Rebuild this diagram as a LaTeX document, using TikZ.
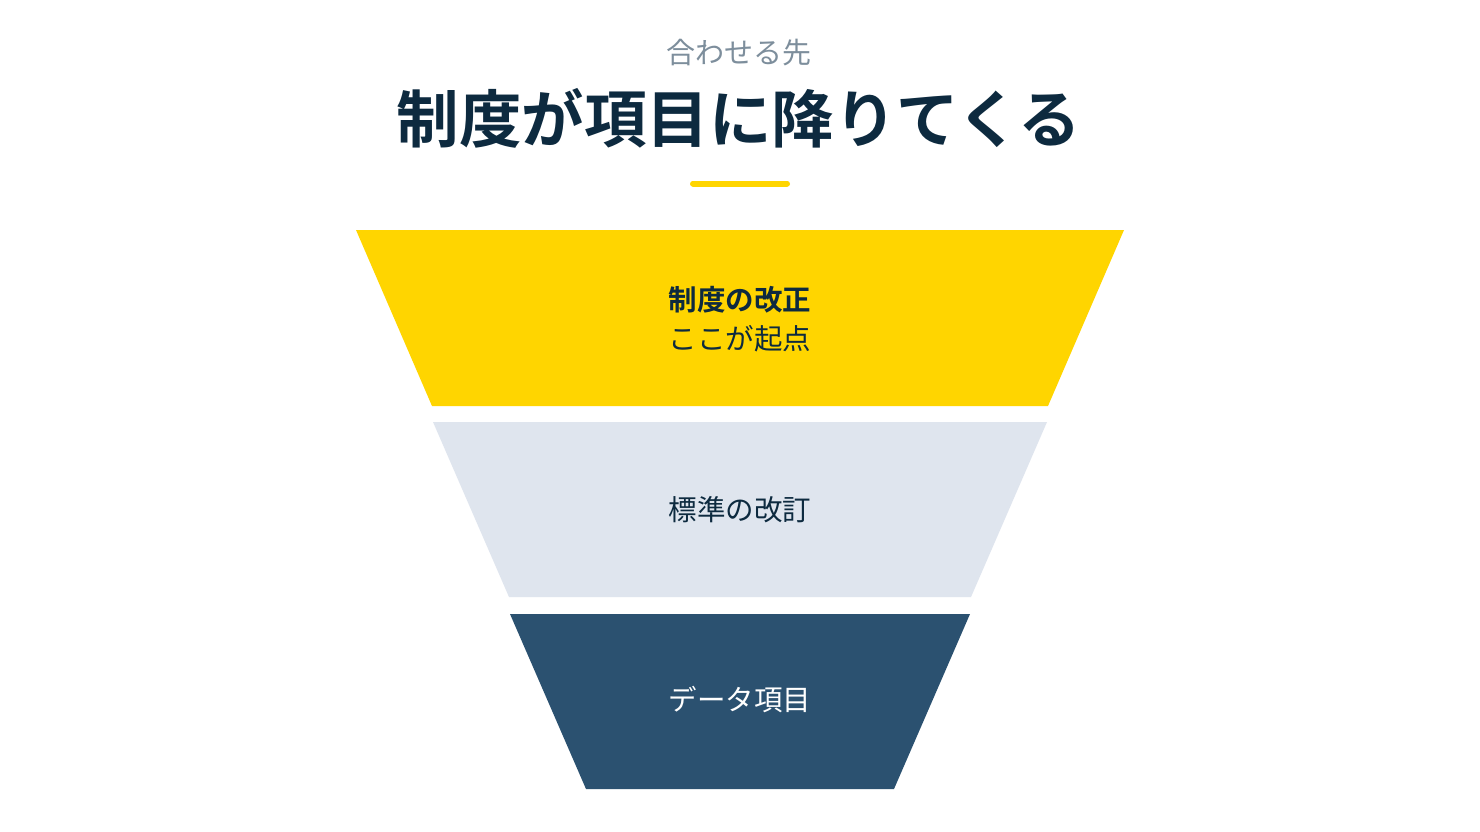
\documentclass[tikz,border=0pt]{standalone}
\usepackage{fontspec}
\newfontfamily\jp{Noto Sans CJK JP}
\newfontfamily\jpb{Noto Sans CJK JP Bold}
\definecolor{ylw}{HTML}{FFD500}
\definecolor{lgray}{HTML}{DFE5EE}
\definecolor{dblue}{HTML}{2B5170}
\definecolor{navy}{HTML}{0D2A3F}
\definecolor{sub}{HTML}{7D8E9C}
\tikzset{
  lbl/.style={font=\jp\fontsize{28.5}{32}\selectfont, inner sep=0pt, anchor=center},
}
\begin{document}
\begin{tikzpicture}[x=1pt,y=-1pt]
\useasboundingbox[fill=white] (0,0) rectangle (1480,832);
\node[inner sep=0pt, text=sub, font=\jp\fontsize{29}{32}\selectfont] (subt) at (739,53) {合わせる先};
\node[inner sep=0pt, text=navy, font=\jpb\fontsize{62.5}{70}\selectfont] (title) at (739,118) {制度が項目に降りてくる};
\draw[ylw, line width=6pt, line cap=round] (693,183.5) -- (787,183.5);
\fill[ylw] (356,230) -- (1124,230) -- (1048,406) -- (432,406) -- cycle;
\fill[lgray] (433,422) -- (1047,422) -- (971,597) -- (509,597) -- cycle;
\fill[dblue] (510,614) -- (970,614) -- (894,789) -- (586,789) -- cycle;
\node[lbl, text=navy, font=\jpb\fontsize{28.5}{32}\selectfont] (a1) at (740,300) {制度の改正};
\node[lbl, text=navy] (a2) at (740,339) {ここが起点};
\node[lbl, text=navy] (b) at (740,510) {標準の改訂};
\node[lbl, text=white] (c) at (740,700) {データ項目};
\end{tikzpicture}
\end{document}
